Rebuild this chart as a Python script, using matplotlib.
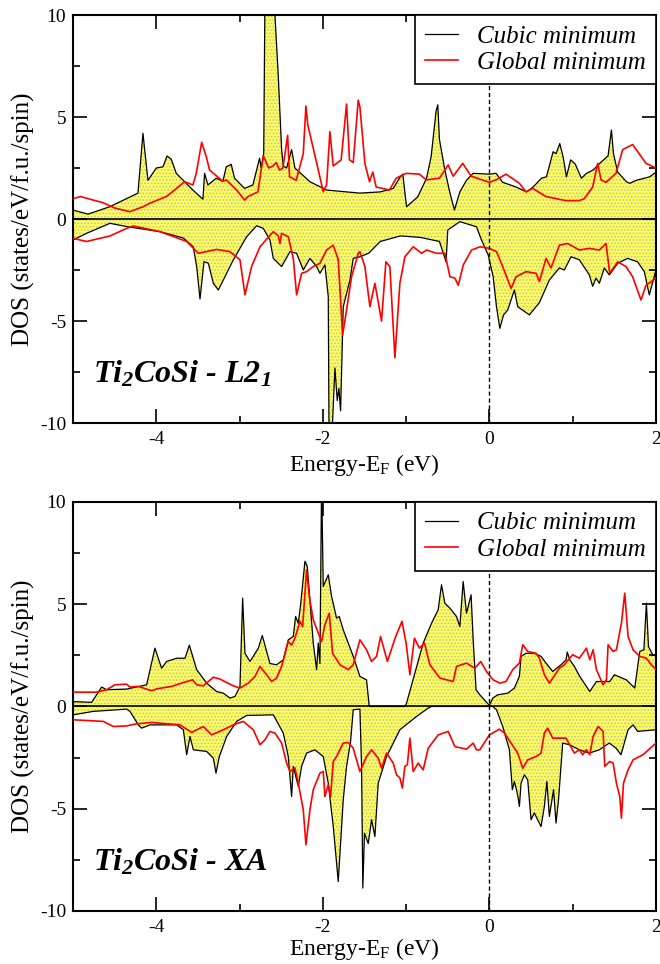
import numpy as np
import matplotlib
matplotlib.use("Agg")
import matplotlib.pyplot as plt
from matplotlib.ticker import MultipleLocator

plt.rcParams['font.family'] = ['Liberation Serif', 'DejaVu Serif']
plt.rcParams['mathtext.default'] = 'regular'
plt.rcParams['axes.unicode_minus'] = False
plt.rcParams['hatch.color'] = '#bdbdbd'
plt.rcParams['hatch.linewidth'] = 0.8

# --- data: (energy, DOS) pairs ---
# top panel: Ti2CoSi - L21
l21_cubic_up = np.array([
    (-5.0, 0.44), (-4.82, 0.24), (-4.56, 0.6), (-4.22, 1.27), (-4.16, 4.2), (-4.10, 1.9),
    (-4.0, 2.5), (-3.92, 2.56), (-3.87, 3.09), (-3.82, 2.93), (-3.76, 2.24), (-3.56, 1.42),
    (-3.44, 0.97), (-3.42, 2.24), (-3.38, 1.67), (-3.28, 2.0), (-3.2, 1.85), (-3.16, 2.56),
    (-3.1, 2.68), (-3.06, 2.0), (-2.94, 1.5), (-2.84, 1.67), (-2.76, 2.98), (-2.74, 2.5),
    (-2.71, 3.2), (-2.695, 11.0), (-2.64, 25.0), (-2.575, 10.0), (-2.535, 7.0), (-2.495, 3.4),
    (-2.475, 2.6), (-2.435, 2.5), (-2.375, 3.4), (-2.335, 2.5), (-2.155, 1.83), (-1.955, 1.42),
    (-1.555, 1.27), (-1.31, 1.33), (-1.155, 1.5), (-1.07, 2.07), (-1.04, 2.2), (-0.995, 0.6),
    (-0.86, 1.09), (-0.755, 2.0), (-0.70, 3.05), (-0.64, 5.3), (-0.62, 5.6), (-0.60, 3.9),
    (-0.535, 2.4), (-0.475, 1.3), (-0.42, 0.44), (-0.355, 1.33), (-0.275, 1.9), (-0.195, 2.24),
    (0.0, 2.2), (0.08, 2.24), (0.16, 1.8), (0.32, 1.57), (0.445, 1.33), (0.525, 1.57),
    (0.625, 2.0), (0.685, 2.07), (0.765, 3.3), (0.80, 3.2), (0.845, 3.7), (0.885, 3.05),
    (0.925, 2.07), (0.975, 2.9), (1.03, 2.7), (1.105, 2.0), (1.165, 2.24), (1.245, 2.4),
    (1.325, 2.73), (1.425, 3.1), (1.465, 4.36), (1.49, 3.2), (1.54, 2.3), (1.645, 1.83),
    (1.685, 1.75), (1.765, 1.9), (1.925, 2.07), (2.0, 2.3)])
l21_cubic_dn = np.array([
    (-5.0, -1.03), (-4.836, -0.7), (-4.556, -0.21), (-4.356, -0.37), (-3.956, -0.62),
    (-3.676, -0.93), (-3.556, -1.36), (-3.515, -2.33), (-3.475, -3.92), (-3.427, -2.09),
    (-3.375, -2.17), (-3.315, -3.15), (-3.255, -3.48), (-3.195, -2.99), (-3.075, -2.0),
    (-2.915, -0.87), (-2.795, -0.33), (-2.715, -0.46), (-2.635, -1.03), (-2.595, -1.93),
    (-2.495, -2.33), (-2.395, -1.6), (-2.315, -1.68), (-2.235, -2.5), (-2.155, -1.93),
    (-2.075, -2.33), (-2.035, -2.66), (-1.975, -2.25), (-1.935, -3.8), (-1.925, -11.0),
    (-1.895, -11.0), (-1.855, -7.3), (-1.827, -8.9), (-1.807, -8.3), (-1.787, -9.4),
    (-1.755, -4.3), (-1.675, -3.0), (-1.635, -1.93), (-1.555, -1.85), (-1.45, -1.68),
    (-1.31, -1.1), (-1.07, -0.83), (-0.83, -0.9), (-0.6, -1.1), (-0.52, -2.1), (-0.5, -0.54),
    (-0.355, -0.13), (-0.155, -0.38), (-0.095, -1.03), (-0.015, -1.76), (0.045, -2.83),
    (0.085, -4.3), (0.125, -5.36), (0.17, -4.7), (0.22, -4.46), (0.26, -3.97), (0.3, -3.48),
    (0.34, -4.3), (0.48, -4.7), (0.6, -4.1), (0.72, -2.99), (0.84, -2.4), (0.9, -2.5),
    (0.98, -1.85), (1.08, -2.0), (1.2, -2.74), (1.24, -3.3), (1.28, -2.9), (1.32, -3.15),
    (1.38, -2.4), (1.44, -2.74), (1.54, -2.17), (1.66, -1.93), (1.78, -2.1), (1.86, -2.58),
    (1.92, -3.72), (2.0, -2.5)])
l21_global_up = np.array([
    (-5.0, 1.0), (-4.91, 1.1), (-4.64, 0.8), (-4.5, 0.54), (-4.32, 0.36), (-4.16, 0.6),
    (-4.08, 0.77), (-3.88, 1.1), (-3.78, 1.42), (-3.66, 1.83), (-3.56, 1.67), (-3.52, 2.24),
    (-3.455, 3.76), (-3.4, 3.06), (-3.36, 2.4), (-3.2, 1.85), (-3.16, 1.92), (-3.035, 1.42),
    (-2.94, 0.93), (-2.9, 1.1), (-2.78, 1.33), (-2.715, 3.1), (-2.65, 2.5), (-2.6, 2.6),
    (-2.56, 2.77), (-2.52, 2.4), (-2.48, 2.5), (-2.423, 4.1), (-2.4, 2.07), (-2.32, 1.9),
    (-2.235, 3.2), (-2.203, 5.54), (-2.18, 4.6), (-2.1, 3.2), (-1.995, 1.34), (-1.955, 1.67),
    (-1.915, 4.28), (-1.875, 2.6), (-1.78, 2.9), (-1.715, 5.64), (-1.68, 2.9), (-1.635, 2.77),
    (-1.575, 5.83), (-1.555, 5.5), (-1.495, 2.73), (-1.44, 1.83), (-1.40, 2.3), (-1.36, 1.57),
    (-1.2, 1.42), (-1.12, 2.0), (-1.0, 2.24), (-0.84, 2.2), (-0.76, 1.92), (-0.6, 2.0),
    (-0.495, 2.65), (-0.435, 2.1), (-0.32, 2.73), (-0.22, 2.1), (0.0, 1.8), (0.08, 1.92),
    (0.2, 2.2), (0.36, 1.75), (0.44, 1.33), (0.52, 1.5), (0.68, 1.1), (0.92, 0.9), (1.08, 0.9),
    (1.14, 1.0), (1.24, 1.57), (1.3, 2.73), (1.34, 1.92), (1.4, 1.8), (1.52, 2.24), (1.6, 3.4),
    (1.72, 3.65), (1.88, 2.73), (2.0, 2.5)])
l21_global_dn = np.array([
    (-5.0, -0.95), (-4.836, -1.1), (-4.556, -0.83), (-4.356, -0.46), (-4.276, -0.34),
    (-3.956, -0.62), (-3.635, -1.1), (-3.495, -1.68), (-3.275, -1.49), (-3.115, -1.6),
    (-2.995, -2.0), (-2.935, -3.72), (-2.855, -2.33), (-2.755, -1.36), (-2.595, -0.62),
    (-2.535, -0.83), (-2.515, -1.2), (-2.495, -0.7), (-2.415, -0.87), (-2.355, -1.93),
    (-2.315, -3.72), (-2.255, -2.66), (-2.195, -2.58), (-2.115, -2.33), (-2.035, -2.17),
    (-1.955, -1.52), (-1.875, -1.28), (-1.815, -2.0), (-1.763, -5.69), (-1.715, -4.46),
    (-1.655, -2.83), (-1.575, -1.68), (-1.555, -1.6), (-1.495, -2.33), (-1.435, -4.3),
    (-1.375, -3.15), (-1.295, -5.0), (-1.243, -2.1), (-1.195, -2.33), (-1.135, -6.8),
    (-1.075, -3.15), (-1.015, -1.85), (-0.915, -1.36), (-0.815, -1.68), (-0.754, -1.52),
    (-0.634, -1.68), (-0.534, -1.68), (-0.474, -2.83), (-0.414, -2.9), (-0.374, -3.25),
    (-0.314, -2.25), (-0.214, -1.52), (-0.114, -1.36), (0.0, -1.44), (0.086, -1.6),
    (0.166, -2.4), (0.26, -3.4), (0.32, -2.83), (0.44, -2.58), (0.56, -2.66), (0.6, -3.07),
    (0.68, -1.93), (0.74, -2.4), (0.84, -1.28), (0.94, -1.2), (1.08, -1.52), (1.2, -1.44),
    (1.32, -1.52), (1.4, -1.2), (1.445, -2.66), (1.54, -2.1), (1.64, -2.33), (1.72, -2.83),
    (1.82, -3.97), (1.88, -3.25), (2.0, -2.9)])

# bottom panel: Ti2CoSi - XA
xa_cubic_up = np.array([
    (-5.0, 0.24), (-4.776, 0.2), (-4.656, 0.95), (-4.596, 0.82), (-4.356, 0.85), (-4.116, 1.06),
    (-4.016, 2.85), (-3.936, 1.87), (-3.876, 2.2), (-3.755, 2.36), (-3.655, 2.36), (-3.603, 3.0),
    (-3.515, 1.8), (-3.395, 1.14), (-3.275, 0.73), (-3.195, 0.65), (-3.115, 0.41), (-3.055, 0.49),
    (-2.995, 0.98), (-2.963, 5.3), (-2.935, 2.6), (-2.875, 2.2), (-2.835, 2.45), (-2.775, 2.85),
    (-2.727, 3.47), (-2.635, 2.1), (-2.555, 2.04), (-2.475, 2.28), (-2.415, 3.26), (-2.355, 3.42),
    (-2.327, 4.4), (-2.295, 4.07), (-2.267, 4.97), (-2.215, 7.1), (-2.187, 6.85), (-2.115, 3.1),
    (-2.075, 1.8), (-2.055, 3.1), (-2.035, 2.1), (-2.015, 11.0), (-1.995, 5.87), (-1.935, 6.44),
    (-1.895, 5.38), (-1.835, 4.32), (-1.803, 4.4), (-1.755, 3.75), (-1.635, 2.45), (-1.555, 1.47),
    (-1.475, 1.3), (-1.443, 0.0), (-1.015, 0.0), (-0.995, 0.16), (-0.795, 3.1), (-0.695, 4.07),
    (-0.615, 4.73), (-0.575, 5.95), (-0.535, 5.05), (-0.475, 4.81), (-0.395, 4.4), (-0.355, 3.91),
    (-0.315, 6.11), (-0.275, 4.56), (-0.22, 5.46), (-0.195, 3.26), (-0.16, 0.82), (-0.115, 0.57),
    (0.0, 0.05), (0.04, 0.41), (0.1, 0.57), (0.22, 0.65), (0.3, 0.9), (0.36, 1.47), (0.38, 2.45),
    (0.44, 2.6), (0.54, 2.6), (0.62, 2.45), (0.68, 2.12), (0.76, 1.71), (0.86, 2.04), (0.92, 2.28),
    (0.935, 2.66), (0.965, 2.28), (1.02, 1.96), (1.085, 1.47), (1.205, 0.73), (1.285, 1.22),
    (1.445, 1.22), (1.5, 1.55), (1.645, 1.3), (1.745, 0.9), (1.805, 2.69), (1.855, 2.77),
    (1.885, 5.05), (1.91, 2.93), (1.965, 2.5), (2.0, 2.5)])
xa_cubic_dn = np.array([
    (-5.0, -0.41), (-4.756, -0.24), (-4.356, -0.13), (-4.316, -0.24), (-4.216, -0.9),
    (-4.176, -1.06), (-4.076, -0.9), (-3.755, -0.9), (-3.675, -1.14), (-3.635, -2.36),
    (-3.595, -1.47), (-3.555, -2.12), (-3.395, -2.2), (-3.315, -2.53), (-3.283, -3.26),
    (-3.243, -2.45), (-3.155, -1.47), (-3.035, -0.73), (-2.915, -0.44), (-2.595, -0.41),
    (-2.475, -1.3), (-2.415, -2.45), (-2.375, -4.4), (-2.355, -2.93), (-2.295, -3.9),
    (-2.255, -2.93), (-2.195, -2.28), (-2.095, -2.12), (-1.995, -2.45), (-1.935, -3.75),
    (-1.875, -5.87), (-1.815, -8.56), (-1.755, -4.56), (-1.715, -2.93), (-1.667, -1.71),
    (-1.635, -0.16), (-1.555, -0.13), (-1.535, -2.93), (-1.52, -8.88), (-1.5, -6.2),
    (-1.455, -6.7), (-1.415, -5.54), (-1.375, -6.36), (-1.335, -3.75), (-1.235, -2.45),
    (-1.075, -1.14), (-0.875, -0.49), (-0.735, -0.08), (-0.695, 0.0), (0.04, 0.0),
    (0.085, -0.16), (0.16, -0.98), (0.24, -2.12), (0.275, -4.07), (0.3, -3.67), (0.33, -4.16),
    (0.345, -4.48), (0.36, -4.89), (0.38, -3.75), (0.42, -3.34), (0.46, -3.59), (0.5, -5.54),
    (0.54, -5.2), (0.56, -5.38), (0.62, -5.87), (0.66, -4.89), (0.69, -3.67), (0.72, -5.38),
    (0.77, -4.07), (0.8, -5.7), (0.83, -4.56), (0.88, -1.79), (0.96, -1.87), (1.08, -2.12),
    (1.2, -2.28), (1.32, -2.12), (1.44, -1.79), (1.52, -2.04), (1.58, -2.36), (1.665, -1.14),
    (1.725, -0.9), (1.78, -1.22), (2.0, -1.14)])
xa_global_up = np.array([
    (-5.0, 0.7), (-4.716, 0.7), (-4.596, 0.82), (-4.496, 1.06), (-4.356, 1.09), (-4.316, 0.95),
    (-4.216, 0.98), (-4.156, 0.9), (-4.056, 0.77), (-3.996, 0.86), (-3.816, 0.98), (-3.676, 1.17),
    (-3.563, 1.3), (-3.515, 1.06), (-3.435, 1.01), (-3.315, 1.43), (-3.235, 1.34), (-3.155, 1.17),
    (-3.075, 1.01), (-2.995, 0.9), (-2.895, 1.14), (-2.815, 1.47), (-2.755, 1.96), (-2.675, 1.55),
    (-2.615, 1.22), (-2.555, 1.39), (-2.495, 1.96), (-2.415, 3.18), (-2.375, 3.0), (-2.335, 3.34),
    (-2.275, 4.16), (-2.243, 3.9), (-2.195, 6.68), (-2.163, 5.38), (-2.115, 4.24), (-2.055, 3.59),
    (-2.015, 3.18), (-1.975, 4.0), (-1.923, 4.56), (-1.883, 2.6), (-1.795, 2.04), (-1.695, 1.8),
    (-1.635, 2.04), (-1.555, 3.26), (-1.475, 2.77), (-1.415, 2.2), (-1.355, 2.45), (-1.307, 3.42),
    (-1.225, 2.2), (-1.125, 3.42), (-1.05, 4.16), (-1.0, 3.1), (-0.955, 1.55), (-0.9, 3.34),
    (-0.84, 2.85), (-0.78, 3.1), (-0.715, 2.04), (-0.595, 1.39), (-0.435, 1.22), (-0.395, 1.96),
    (-0.275, 2.12), (-0.175, 1.87), (-0.105, 2.2), (-0.035, 1.71), (0.045, 1.3), (0.125, 1.14),
    (0.2, 1.22), (0.28, 1.8), (0.36, 2.12), (0.4, 3.02), (0.46, 2.69), (0.56, 2.6), (0.6, 2.36),
    (0.66, 1.55), (0.72, 1.14), (0.84, 1.87), (0.9, 2.04), (1.0, 2.53), (1.08, 2.36),
    (1.165, 2.85), (1.205, 2.28), (1.245, 2.77), (1.285, 1.8), (1.365, 1.06), (1.405, 1.3),
    (1.425, 3.02), (1.485, 2.69), (1.525, 2.77), (1.585, 4.07), (1.625, 5.54), (1.665, 3.42),
    (1.725, 2.77), (1.805, 2.45), (1.885, 2.36), (1.945, 2.04), (2.0, 1.8)])
xa_global_dn = np.array([
    (-5.0, -0.65), (-4.636, -0.73), (-4.516, -0.98), (-4.356, -0.95), (-4.236, -0.85),
    (-4.056, -0.78), (-3.715, -0.9), (-3.575, -1.27), (-3.435, -0.98), (-3.335, -1.39),
    (-3.195, -1.14), (-3.075, -0.9), (-2.955, -0.73), (-2.835, -1.14), (-2.755, -1.87),
    (-2.695, -1.63), (-2.635, -1.22), (-2.575, -1.3), (-2.495, -1.79), (-2.435, -2.77),
    (-2.395, -3.18), (-2.335, -3.0), (-2.295, -3.75), (-2.235, -5.05), (-2.203, -6.76),
    (-2.155, -5.05), (-2.115, -4.07), (-2.035, -3.26), (-1.995, -3.18), (-1.975, -4.4),
    (-1.935, -3.83), (-1.907, -4.4), (-1.875, -2.69), (-1.835, -2.45), (-1.755, -1.79),
    (-1.695, -1.76), (-1.635, -2.04), (-1.555, -3.18), (-1.475, -2.45), (-1.415, -2.12),
    (-1.335, -2.53), (-1.295, -3.02), (-1.235, -2.28), (-1.155, -2.77), (-1.115, -3.34),
    (-1.075, -3.5), (-1.045, -3.99), (-1.015, -2.93), (-0.985, -2.85), (-0.955, -1.55),
    (-0.915, -3.18), (-0.855, -2.77), (-0.795, -3.1), (-0.735, -2.04), (-0.615, -1.39),
    (-0.495, -1.22), (-0.415, -1.96), (-0.275, -2.09), (-0.195, -1.79), (-0.155, -2.12),
    (-0.115, -2.12), (0.0, -1.39), (0.12, -1.11), (0.18, -1.3), (0.26, -1.79), (0.34, -2.28),
    (0.4, -3.02), (0.46, -2.61), (0.56, -2.45), (0.62, -2.28), (0.66, -1.3), (0.7, -1.06),
    (0.76, -1.55), (0.92, -1.55), (1.02, -2.28), (1.08, -2.12), (1.12, -2.36), (1.165, -2.12),
    (1.205, -2.36), (1.245, -1.47), (1.305, -0.98), (1.365, -1.22), (1.385, -2.93),
    (1.445, -2.69), (1.485, -2.77), (1.525, -3.75), (1.565, -4.4), (1.585, -5.46),
    (1.61, -3.75), (1.665, -3.1), (1.725, -2.61), (1.845, -2.36), (2.0, -1.79)])

panels = [
    ("Ti$_2$CoSi - L2$_1$", l21_cubic_up, l21_cubic_dn, l21_global_up, l21_global_dn, -0.071),
    ("Ti$_2$CoSi - XA", xa_cubic_up, xa_cubic_dn, xa_global_up, xa_global_dn, -0.06),
]

fig = plt.figure(figsize=(6.6, 9.64), dpi=100)
rects = [[0.1106, 0.5612, 0.8833, 0.4232], [0.1106, 0.055, 0.8833, 0.4243]]

for rect, (title, cub_up, cub_dn, glo_up, glo_dn, xlab_y) in zip(rects, panels):
    ax = fig.add_axes(rect)

    # shaded area under the cubic-minimum curves
    for d in (cub_up, cub_dn):
        ax.fill_between(d[:, 0], d[:, 1], 0, facecolor='#ffff50', edgecolor='#bdbdbd',
                        hatch='.....', linewidth=0, zorder=1)

    ax.plot(cub_up[:, 0], cub_up[:, 1], color='black', lw=0.9, zorder=3, label='Cubic minimum')
    ax.plot(cub_dn[:, 0], cub_dn[:, 1], color='black', lw=0.9, zorder=3)
    ax.plot(glo_up[:, 0], glo_up[:, 1], color='red', lw=1.2, zorder=4, label='Global minimum')
    ax.plot(glo_dn[:, 0], glo_dn[:, 1], color='red', lw=1.2, zorder=4)

    ax.axhline(0, color='black', lw=1.2, zorder=5)
    ax.axvline(0, color='black', lw=1.0, ls=(0, (3, 2)), zorder=5)

    ax.set_xlim(-5, 2)
    ax.set_ylim(-10, 10)
    ax.xaxis.set_major_locator(MultipleLocator(2))
    ax.xaxis.set_minor_locator(MultipleLocator(1))
    ax.yaxis.set_major_locator(MultipleLocator(5))
    ax.yaxis.set_minor_locator(MultipleLocator(2.5))
    ax.tick_params(which='both', direction='in', top=True, right=True, width=1.2)
    ax.tick_params(which='major', length=10, labelsize=14)
    ax.tick_params(which='minor', length=5)
    ax.tick_params(axis='x', pad=6)
    ax.tick_params(axis='y', pad=5)
    for s in ax.spines.values():
        s.set_linewidth(1.5)

    ax.set_xlabel('Energy-E$_F$ (eV)', fontsize=17)
    ax.set_ylabel('DOS (states/eV/f.u./spin)', fontsize=18)
    ax.xaxis.set_label_coords(0.5, xlab_y)
    ax.yaxis.set_label_coords(-0.065, 0.5)

    leg = ax.legend(loc='upper right', borderaxespad=0, fancybox=False, framealpha=1,
                    prop={'family': 'Liberation Serif', 'style': 'italic', 'size': 18},
                    handlelength=1.35, handletextpad=0.75, labelspacing=0.15, borderpad=0.4)
    leg.get_frame().set_edgecolor('black')
    leg.get_frame().set_linewidth(1.2)
    leg.set_zorder(10)

    ax.text(0.034, 0.10, title, transform=ax.transAxes, fontsize=23,
            fontweight='bold', style='italic', va='baseline', zorder=11)

fig.savefig('out.png', dpi=100)
plt.close(fig)
